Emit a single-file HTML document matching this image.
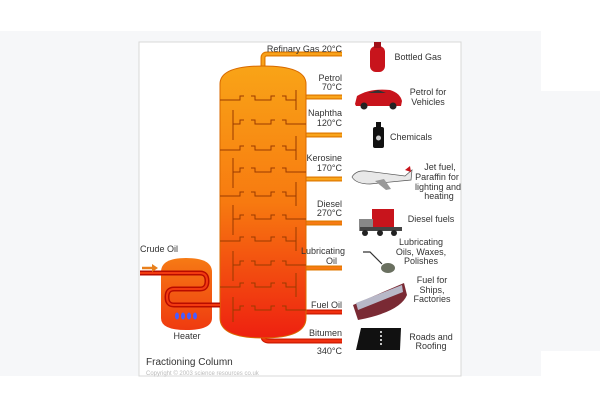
<!DOCTYPE html>
<html><head><meta charset="utf-8"><style>
html,body{margin:0;padding:0;background:#fff;}
svg{display:block;}
text{font-family:"Liberation Sans",sans-serif;fill:#333;font-size:9px;}
</style></head><body>
<svg width="600" height="400" viewBox="0 0 600 400" xmlns="http://www.w3.org/2000/svg">
<defs>
<linearGradient id="col" x1="0" y1="0" x2="0" y2="1">
<stop offset="0" stop-color="#f9a417"/><stop offset="0.5" stop-color="#f77a10"/><stop offset="1" stop-color="#ee2010"/>
</linearGradient>
<linearGradient id="ht" x1="0" y1="0" x2="0" y2="1">
<stop offset="0" stop-color="#f67a14"/><stop offset="1" stop-color="#ef3a10"/>
</linearGradient>
</defs>
<rect x="0" y="31" width="541" height="345" fill="#f6f7f9"/>
<rect x="541" y="91" width="59" height="260" fill="#f6f7f9"/>
<rect x="139" y="42" width="322" height="334" fill="#fff" stroke="#d8d8d8" stroke-width="1"/>

<g fill="none" stroke-linecap="butt">
<path d="M263 68 V58 Q263 54 267 54 H342" stroke="#e07a00" stroke-width="5"/>
<path d="M263 68 V58 Q263 54 267 54 H342" stroke="#f8a21a" stroke-width="2.5"/>
<g stroke="#e07a00" stroke-width="5">
<path d="M306 97 H342"/><path d="M300 128 Q300 135 307 135 H342"/><path d="M300 172 Q300 179 307 179 H342"/>
<path d="M300 216 Q300 223 307 223 H342"/><path d="M300 261 Q300 268 307 268 H342"/>
</g>
<g stroke="#cc1a00" stroke-width="5"><path d="M300 305 Q300 312 307 312 H342"/><path d="M263 336 V336 Q263 341 269 341 H342"/></g>
<g stroke="#f9a51c" stroke-width="2.5">
<path d="M306 97 H342"/><path d="M300 128 Q300 135 307 135 H342"/><path d="M300 172 Q300 179 307 179 H342"/>
</g>
<g stroke="#f77a14" stroke-width="2.5"><path d="M300 216 Q300 223 307 223 H342"/><path d="M300 261 Q300 268 307 268 H342"/></g>
<g stroke="#f03010" stroke-width="2.5"><path d="M300 305 Q300 312 307 312 H342"/><path d="M263 334 V336 Q263 341 269 341 H342"/></g>
</g>

<path d="M220 84 Q220 66 263 66 Q306 66 306 84 V318 Q306 338 263 338 Q220 338 220 318 Z" fill="url(#col)" stroke="#d86a00" stroke-width="1"/>
<g fill="none" stroke="#9a3a00" stroke-width="1">
<path d="M220 100 H240 V96 H244 M251 96 H255 V100 H271 V96 H275 M282 96 H286 V100 H296 M296 90 V110"/>
<path d="M306 124 H286 V120 H282 M275 120 H271 V124 H255 V120 H251 M244 120 H240 V124 H233 M233 110 V140"/>
<path d="M220 150 H240 V146 H244 M251 146 H255 V150 H271 V146 H275 M282 146 H286 V150 H296 M296 136 V160"/>
<path d="M306 172 H286 V168 H282 M275 168 H271 V172 H255 V168 H251 M244 168 H240 V172 H233 M233 158 V188"/>
<path d="M220 196 H240 V192 H244 M251 192 H255 V196 H271 V192 H275 M282 192 H286 V196 H296 M296 182 V206"/>
<path d="M306 219 H286 V215 H282 M275 215 H271 V219 H255 V215 H251 M244 215 H240 V219 H233 M233 205 V235"/>
<path d="M220 241 H240 V237 H244 M251 237 H255 V241 H271 V237 H275 M282 237 H286 V241 H296 M296 227 V251"/>
<path d="M306 265 H286 V261 H282 M275 261 H271 V265 H255 V261 H251 M244 261 H240 V265 H233 M233 251 V281"/>
<path d="M220 287 H240 V283 H244 M251 283 H255 V287 H271 V283 H275 M282 283 H286 V287 H296 M296 273 V297"/>
<path d="M306 310 H286 V306 H282 M275 306 H271 V310 H255 V306 H251 M244 306 H240 V310 H233 M233 297 V322"/>
</g>

<path d="M161 272 Q161 258 186 258 Q212 258 212 272 V318 Q212 330 186 330 Q161 330 161 318 Z" fill="url(#ht)"/>
<path d="M140 273 H200 Q207 273 207 281 Q207 289 200 289 H174 Q167 289 167 297 Q167 305 174 305 H220" fill="none" stroke="#b80c00" stroke-width="5"/>
<path d="M140 273 H200 Q207 273 207 281 Q207 289 200 289 H174 Q167 289 167 297 Q167 305 174 305 H220" fill="none" stroke="#f23a10" stroke-width="2"/>
<g fill="#4a5cff"><ellipse cx="177" cy="316" rx="2" ry="3.5"/><ellipse cx="183" cy="316" rx="2" ry="3.5"/><ellipse cx="189" cy="316" rx="2" ry="3.5"/><ellipse cx="195" cy="316" rx="2" ry="3.5"/></g>
<path d="M142 268 H154" stroke="#e8801c" stroke-width="2.5"/><path d="M152 264 L158 268 L152 272 Z" fill="#e8801c"/>

<g text-anchor="end">
<text x="342" y="52">Refinary Gas  20°C</text>
<text x="342" y="81">Petrol</text><text x="342" y="90">70°C</text>
<text x="342" y="116">Naphtha</text><text x="342" y="126">120°C</text>
<text x="342" y="161">Kerosine</text><text x="342" y="171">170°C</text>
<text x="342" y="207">Diesel</text><text x="342" y="216">270°C</text>
<text x="345" y="254">Lubricating</text><text x="337" y="264">Oil</text>
<text x="342" y="308">Fuel Oil</text>
<text x="342" y="336">Bitumen</text><text x="342" y="354">340°C</text>
</g>
<text x="140" y="252">Crude Oil</text>
<text x="187" y="339" text-anchor="middle">Heater</text>
<text x="146" y="365" style="font-size:10px">Fractioning Column</text>
<text x="146" y="375" style="font-size:6px;fill:#bbb">Copyright © 2003 science resources co.uk</text>

<g text-anchor="middle">
<text x="418" y="60">Bottled Gas</text>
<text x="428" y="95">Petrol for</text><text x="428" y="105">Vehicles</text>
<text x="411" y="140">Chemicals</text>
<text x="440" y="170">Jet fuel,</text><text x="437" y="180">Paraffin for</text><text x="438" y="190">lighting and</text><text x="439" y="199">heating</text>
<text x="431" y="222">Diesel fuels</text>
<text x="421" y="245">Lubricating</text><text x="421" y="255">Oils, Waxes,</text><text x="421" y="264">Polishes</text>
<text x="432" y="283">Fuel for</text><text x="432" y="293">Ships,</text><text x="432" y="302">Factories</text>
<text x="431" y="340">Roads and</text><text x="431" y="349">Roofing</text>
</g>

<rect x="370" y="46" width="15" height="26" rx="6" fill="#c8141c"/><rect x="374" y="42" width="7" height="6" fill="#a01018"/>
<path d="M355 104 L357 96 Q370 88 390 90 Q400 93 402 101 L401 106 H356 Z" fill="#c8141c"/><circle cx="364" cy="106" r="3.5" fill="#222"/><circle cx="393" cy="106" r="3.5" fill="#222"/><path d="M368 93 L378 90 L386 93 Z" fill="#333"/>
<rect x="373" y="127" width="11" height="21" rx="2" fill="#111"/><rect x="376" y="122" width="5" height="6" fill="#111"/><circle cx="378.5" cy="138" r="2.5" fill="#ccc"/>
<path d="M352 177 Q356 170 366 171 L405 176 L412 170 L411 180 L370 184 Q356 184 352 177 Z" fill="#e8e8e8" stroke="#555" stroke-width="0.7"/><path d="M375 181 L386 190 L391 189 L384 179 Z" fill="#999"/><path d="M405 170 L410 166 L411 172 Z" fill="#c8141c"/>
<rect x="372" y="209" width="22" height="18" fill="#c8141c"/><rect x="359" y="219" width="14" height="12" fill="#888"/><rect x="360" y="227" width="42" height="4" fill="#444"/><circle cx="365" cy="233" r="3" fill="#222"/><circle cx="380" cy="233" r="3" fill="#222"/><circle cx="394" cy="233" r="3" fill="#222"/>
<path d="M363 252 L370 252 L382 264" stroke="#333" stroke-width="1.2" fill="none"/><ellipse cx="388" cy="268" rx="7" ry="5" fill="#6a7060"/>
<path d="M353 305 L404 283 L407 295 Q400 312 358 320 Z" fill="#7a2a34"/><path d="M356 303 L402 285 L403 292 L358 310 Z" fill="#b8b8c8"/>
<path d="M361 328 L401 328 L400 350 L356 350 Z" fill="#111"/><path d="M381 331 V347" stroke="#fff" stroke-width="1.5" stroke-dasharray="2 2"/>
</svg>
</body></html>
